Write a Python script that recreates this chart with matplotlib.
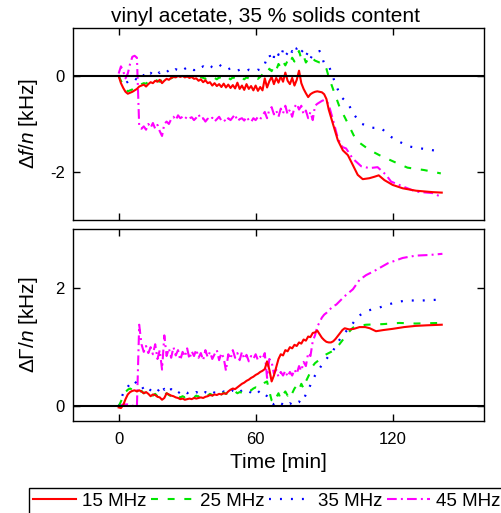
import matplotlib
matplotlib.use('Agg')
import matplotlib.pyplot as plt
from matplotlib.lines import Line2D

plt.rcParams['font.family'] = ['Liberation Sans', 'DejaVu Sans']
plt.rcParams['mathtext.fontset'] = 'custom'
plt.rcParams['mathtext.rm'] = 'Liberation Sans'
plt.rcParams['mathtext.it'] = 'Liberation Sans:italic'
plt.rcParams['lines.scale_dashes'] = False

# ---------------- data ----------------
labels = ['15 MHz', '25 MHz', '35 MHz', '45 MHz']
x_ticks = [0, 60, 120]
top_yticks = [0, -2]
bot_yticks = [0, 2]
title = 'vinyl acetate, 35 % solids content'

t_dense = [0, 1, 2, 3, 4, 5, 6, 7, 8, 9,
           10, 11, 12, 13, 14, 15, 16, 17, 18, 19,
           20, 21, 22, 23, 24, 25, 26, 27, 28, 29,
           30, 31, 32, 33, 34, 35, 36, 37, 38, 39,
           40, 41, 42, 43, 44, 45, 46, 47, 48, 49,
           50, 51, 52, 53, 54, 55, 56, 57, 58, 59,
           60, 61, 62, 63, 64, 65, 66, 67, 68, 69,
           70, 71, 72, 73, 74, 75, 76, 77, 78, 79,
           80, 81, 82, 83, 84, 85, 86, 87, 88, 89,
           90, 91, 92]

# ---- frequency shift  (top panel) ----
df15_dense = [0.00, -0.15, -0.25, -0.33, -0.37, -0.35, -0.33, -0.30, -0.27, -0.22,
              -0.20, -0.18, -0.22, -0.17, -0.13, -0.15, -0.10, -0.12, -0.08, -0.15,
              -0.10, -0.06, -0.08, -0.04, -0.02, -0.03, 0.00, -0.02, 0.00, -0.03,
              -0.01, -0.04, -0.02, -0.06, -0.05, -0.10, -0.07, -0.13, -0.09, -0.15,
              -0.13, -0.20, -0.15, -0.21, -0.17, -0.23, -0.16, -0.24, -0.18, -0.25,
              -0.19, -0.26, -0.14, -0.27, -0.20, -0.29, -0.17, -0.27, -0.21, -0.30,
              -0.20, -0.31, -0.23, -0.30, -0.05, -0.24, -0.11, -0.02, -0.17, -0.04,
              -0.14, -0.01, -0.12, 0.07, -0.10, -0.17, -0.04, -0.20, -0.08, 0.11,
              -0.15, -0.27, -0.36, -0.44, -0.38, -0.35, -0.33, -0.32, -0.33, -0.34,
              -0.38, -0.48, -0.70]
df15_tail_t = [93.8, 96.0, 98.2, 100.4, 102.5, 104.7, 106.9, 109.8, 112.0, 113.9,
               116.4, 120.0, 124.4, 130.2, 137.5, 141.5]
df15_tail = [-0.99, -1.34, -1.55, -1.65, -1.85, -2.06, -2.15, -2.13, -2.10, -2.07,
             -2.17, -2.27, -2.34, -2.39, -2.42, -2.43]

df25_dense = [0.00, -0.10, -0.20, -0.28, -0.32, -0.30, -0.28, -0.25, -0.22, -0.20,
              -0.17, -0.15, -0.16, -0.12, -0.10, -0.12, -0.08, -0.10, -0.12, -0.08,
              -0.05, -0.06, -0.03, -0.05, -0.02, 0.00, -0.02, 0.02, 0.00, -0.02,
              0.00, -0.03, -0.01, -0.03, -0.02, -0.05, -0.02, -0.04, -0.06, -0.03,
              -0.05, -0.02, -0.04, -0.07, -0.03, -0.05, -0.02, -0.06, -0.04, -0.07,
              -0.03, -0.05, -0.02, -0.06, -0.04, -0.07, -0.03, -0.05, -0.02, -0.04,
              -0.03, -0.06, -0.02, 0.03, 0.08, 0.05, 0.15, 0.10, 0.20, 0.12,
              0.25, 0.18, 0.30, 0.22, 0.32, 0.25, 0.38, 0.30, 0.45, 0.52,
              0.35, 0.42, 0.28, 0.35, 0.30, 0.36, 0.32, 0.30, 0.28, 0.27,
              0.26, 0.15, -0.02]
df25_tail_t = [93.8, 96.7, 100.4, 104.0, 109.8, 114.2, 120.7, 126.5, 133.8, 141.1]
df25_tail = [-0.26, -0.64, -0.99, -1.34, -1.54, -1.65, -1.79, -1.91, -1.96, -2.03]

df35_dense = [0.00, -0.05, -0.10, -0.15, -0.12, -0.08, -0.10, -0.05, -0.08, -0.02,
              -0.05, 0.02, 0.00, 0.08, 0.05, 0.12, 0.08, 0.10, 0.06, 0.12,
              0.10, 0.08, 0.12, 0.15, 0.10, 0.14, 0.12, 0.16, 0.12, 0.15,
              0.18, 0.14, 0.16, 0.12, 0.18, 0.15, 0.17, 0.20, 0.16, 0.18,
              0.22, 0.18, 0.16, 0.20, 0.24, 0.20, 0.17, 0.19, 0.14, 0.16,
              0.12, 0.14, 0.11, 0.13, 0.10, 0.12, 0.10, 0.13, 0.11, 0.12,
              0.10, 0.13, 0.12, 0.18, 0.25, 0.38, 0.45, 0.30, 0.40, 0.32,
              0.45, 0.38, 0.55, 0.42, 0.48, 0.40, 0.52, 0.45, 0.58, 0.62,
              0.50, 0.55, 0.42, 0.50, 0.36, 0.45, 0.48, 0.50, 0.52, 0.40,
              0.26, 0.24, 0.22]
df35_tail_t = [95.3, 97.5, 100.4, 103.3, 106.2, 110.6, 114.9, 118.6, 122.9, 127.3,
               132.4, 136.8, 141.1]
df35_tail = [-0.21, -0.44, -0.57, -0.82, -0.99, -1.08, -1.08, -1.25, -1.37, -1.47,
             -1.51, -1.54, -1.58]

df45_dense = [0.05, 0.20, 0.10, -0.05, 0.05, 0.25, 0.40, 0.42, 0.38, -1.05,
              -1.10, -1.05, -1.12, -1.00, -1.08, -0.98, -1.10, -1.02, -1.15, -1.25,
              -1.00, -0.95, -1.00, -0.90, -0.85, -0.92, -0.82, -0.88, -0.85, -0.90,
              -0.84, -0.88, -0.86, -0.92, -0.87, -0.80, -0.90, -0.88, -0.95, -0.89,
              -0.92, -0.87, -0.95, -0.90, -0.85, -0.93, -0.90, -0.96, -0.88, -0.92,
              -0.86, -0.80, -0.94, -0.90, -0.88, -0.93, -0.85, -0.92, -0.96, -0.88,
              -0.92, -0.85, -0.90, -0.82, -0.75, -0.88, -0.70, -0.65, -0.80, -0.72,
              -0.85, -0.68, -0.78, -0.62, -0.80, -0.70, -0.85, -0.65, -0.58, -0.70,
              -0.62, -0.80, -0.72, -0.88, -0.75, -0.92, -0.62, -0.58, -0.55, -0.52,
              -0.50, -0.52, -0.60]
df45_tail_t = [93.8, 96.0, 98.0, 99.6, 102.5, 106.2, 109.8, 113.4, 117.1, 119.3,
               124.4, 130.2, 137.5, 141.8]
df45_tail = [-0.90, -1.30, -1.48, -1.51, -1.72, -1.88, -1.92, -1.90, -2.06, -2.20,
             -2.30, -2.41, -2.44, -2.53]

# ---- bandwidth shift  (bottom panel) ----
dg15_dense = [-0.02, -0.03, 0.02, 0.12, 0.20, 0.24, 0.26, 0.27, 0.25, 0.27,
              0.25, 0.22, 0.24, 0.21, 0.17, 0.20, 0.19, 0.16, 0.15, 0.11,
              0.14, 0.22, 0.20, 0.18, 0.17, 0.15, 0.14, 0.12, 0.13, 0.11,
              0.12, 0.13, 0.12, 0.14, 0.13, 0.14, 0.15, 0.14, 0.16, 0.17,
              0.19, 0.18, 0.20, 0.19, 0.21, 0.20, 0.22, 0.21, 0.25, 0.28,
              0.30, 0.29, 0.32, 0.35, 0.38, 0.40, 0.43, 0.45, 0.48, 0.50,
              0.53, 0.55, 0.58, 0.60, 0.63, 0.76, 0.62, 0.42, 0.52, 0.66,
              0.80, 0.88, 0.86, 0.95, 0.93, 1.00, 0.98, 1.04, 1.02, 1.08,
              1.06, 1.13, 1.11, 1.18, 1.17, 1.24, 1.25, 1.28, 1.22, 1.16,
              1.12, 1.09, 1.08]
dg15_tail_t = [93.0, 94.0, 95.0, 96.0, 97.0, 98.0, 99.0, 100.0, 101.0, 103.0,
               105.5, 108.0, 110.0, 112.7, 116.0, 120.0, 125.0, 130.0, 135.0, 141.5]
dg15_tail = [1.08, 1.10, 1.14, 1.19, 1.24, 1.29, 1.32, 1.31, 1.30, 1.31,
             1.34, 1.34, 1.32, 1.27, 1.29, 1.31, 1.34, 1.36, 1.37, 1.38]

dg25_dense = [0.00, 0.08, 0.18, 0.24, 0.28, 0.30, 0.28, 0.25, 0.27, 0.24,
              0.26, 0.22, 0.24, 0.20, 0.22, 0.18, 0.21, 0.17, 0.20, 0.16,
              0.18, 0.22, 0.19, 0.17, 0.19, 0.16, 0.18, 0.15, 0.17, 0.15,
              0.16, 0.14, 0.17, 0.15, 0.18, 0.16, 0.19, 0.17, 0.20, 0.18,
              0.21, 0.19, 0.16, 0.20, 0.22, 0.20, 0.23, 0.21, 0.22, 0.20,
              0.23, 0.25, 0.22, 0.24, 0.23, 0.26, 0.25, 0.28, 0.27, 0.30,
              0.32, 0.31, 0.35, 0.36, 0.40, 0.42, 0.25, 0.10, 0.06, 0.15,
              0.22, 0.12, 0.20, 0.25, 0.18, 0.27, 0.22, 0.30, 0.35, 0.28,
              0.38, 0.30, 0.42, 0.50, 0.58, 0.68, 0.73, 0.76, 0.80, 0.83,
              0.86, 0.88, 0.90]
dg25_tail_t = [94.0, 96.7, 98.9, 100.0, 102.6, 104.7, 108.4, 115.7, 122.9, 130.0, 141.1]
dg25_tail = [0.94, 1.05, 1.16, 1.22, 1.33, 1.36, 1.38, 1.39, 1.41, 1.40, 1.41]

dg35_dense = [0.00, 0.12, 0.22, 0.30, 0.33, 0.38, 0.36, 0.42, 0.38, 0.40,
              0.35, 0.28, 0.25, 0.30, 0.27, 0.24, 0.28, 0.25, 0.30, 0.36,
              0.28, 0.32, 0.26, 0.29, 0.24, 0.26, 0.22, 0.25, 0.23, 0.26,
              0.22, 0.25, 0.23, 0.21, 0.24, 0.22, 0.25, 0.21, 0.24, 0.20,
              0.22, 0.25, 0.23, 0.21, 0.24, 0.22, 0.25, 0.23, 0.26, 0.24,
              0.27, 0.23, 0.26, 0.24, 0.27, 0.25, 0.22, 0.25, 0.23, 0.20,
              0.24, 0.26, 0.22, 0.25, 0.20, 0.17, 0.12, 0.06, 0.03, 0.06,
              0.02, 0.05, 0.03, 0.06, 0.02, 0.05, 0.03, 0.06, 0.04, 0.08,
              0.05, 0.12, 0.20, 0.28, 0.36, 0.45, 0.52, 0.58, 0.64, 0.70,
              0.76, 0.80, 0.85]
dg35_tail_t = [93.8, 95.3, 98.2, 101.8, 104.7, 109.1, 113.5, 117.0, 121.5, 125.8,
               133.1, 138.2, 141.0]
dg35_tail = [0.93, 1.04, 1.21, 1.36, 1.52, 1.62, 1.66, 1.71, 1.76, 1.79,
             1.79, 1.80, 1.80]

dg45_dense = [0.00, 0.02, 0.03, 0.03, 0.03, 0.02, 0.01, 0.00, 0.00, 1.38,
              1.05, 0.92, 1.02, 0.90, 1.00, 0.88, 1.05, 0.80, 0.95, 0.62,
              1.20, 0.85, 0.98, 0.82, 1.00, 0.86, 0.95, 0.78, 0.92, 0.84,
              0.98, 0.80, 0.93, 0.85, 0.96, 0.82, 0.90, 0.78, 0.95, 0.83,
              0.92, 0.80, 0.88, 0.95, 0.78, 0.90, 0.82, 0.60, 0.88, 0.80,
              0.95, 0.82, 0.90, 0.78, 0.92, 0.80, 0.87, 0.76, 0.85, 0.80,
              0.88, 0.78, 0.84, 0.80, 0.90, 0.48, 0.80, 0.75, 0.55, 0.62,
              0.50, 0.58, 0.52, 0.60, 0.50, 0.58, 0.52, 0.62, 0.55, 0.68,
              0.60, 0.75, 0.68, 0.90, 0.85, 1.10, 1.20, 1.35, 1.42, 1.50,
              1.55, 1.58, 1.62]
dg45_tail_t = [93.8, 95.3, 98.9, 102.6, 105.5, 108.4, 112.0, 117.9, 124.4, 130.2,
               136.0, 141.8]
dg45_tail = [1.69, 1.72, 1.86, 1.98, 2.14, 2.22, 2.29, 2.42, 2.51, 2.55,
             2.56, 2.58]

top_series = [(df15_dense, df15_tail_t, df15_tail),
              (df25_dense, df25_tail_t, df25_tail),
              (df35_dense, df35_tail_t, df35_tail),
              (df45_dense, df45_tail_t, df45_tail)]
bot_series = [(dg15_dense, dg15_tail_t, dg15_tail),
              (dg25_dense, dg25_tail_t, dg25_tail),
              (dg35_dense, dg35_tail_t, dg35_tail),
              (dg45_dense, dg45_tail_t, dg45_tail)]

# ---------------- styles ----------------
colors = ['#ff0000', '#00e600', '#0000ff', '#ff00ff']
dash_styles = [None, (0, (5, 7)), (0, (1.4, 6.5)), (0, (7, 3, 1.4, 3))]
lwidths = [1.5, 1.5, 1.6, 1.5]

fig = plt.figure(figsize=(5.02, 5.13), dpi=100)
ax1 = fig.add_axes([0.1454, 0.5712, 0.8187, 0.3743])
ax2 = fig.add_axes([0.1454, 0.1793, 0.8187, 0.3743])


def draw(ax, series):
    for i, (vd, tt, vt) in enumerate(series):
        ls = '-' if dash_styles[i] is None else dash_styles[i]
        ax.plot(t_dense + tt, vd + vt, color=colors[i], lw=lwidths[i],
                linestyle=ls, zorder=2 + (3 - i) * 0.1)
    ax.axhline(0, color='k', lw=1.5, zorder=5)
    ax.set_xlim(-20, 160)
    ax.set_xticks(x_ticks)
    ax.tick_params(direction='in', top=True, right=True, length=5, width=1,
                   labelsize=12, pad=6)
    for s in ax.spines.values():
        s.set_linewidth(1.0)


draw(ax1, top_series)
ax1.set_ylim(-3, 1)
ax1.set_yticks(top_yticks)
ax1.set_yticklabels(['0', '-2'])
ax1.tick_params(labelbottom=False)
ax1.set_ylabel('Δ$\\mathit{f}$/$\\mathit{n}$ [kHz]', fontsize=15, labelpad=7)

draw(ax2, bot_series)
ax2.set_ylim(-0.25, 3)
ax2.set_yticks(bot_yticks)
ax2.tick_params(axis='x', pad=8)
ax2.set_ylabel('ΔΓ/$\\mathit{n}$ [kHz]', fontsize=15, labelpad=11)
ax2.set_xlabel('Time [min]', fontsize=15, labelpad=4)

fig.text(0.5295, 0.957, title, ha='center', va='baseline', fontsize=15)

handles = []
for i in range(4):
    ls = '-' if dash_styles[i] is None else dash_styles[i]
    handles.append(Line2D([], [], color=colors[i], lw=lwidths[i], linestyle=ls))
leg = fig.legend(handles, labels, loc='upper center', bbox_to_anchor=(0.531, 0.049),
                 ncol=4, frameon=True, fancybox=False, edgecolor='k', framealpha=1,
                 handlelength=2.3, handletextpad=0.3, columnspacing=0.25,
                 borderpad=0.25, borderaxespad=0, fontsize=13.5)
leg.get_frame().set_linewidth(1.0)

fig.savefig('out.png', dpi=100)
